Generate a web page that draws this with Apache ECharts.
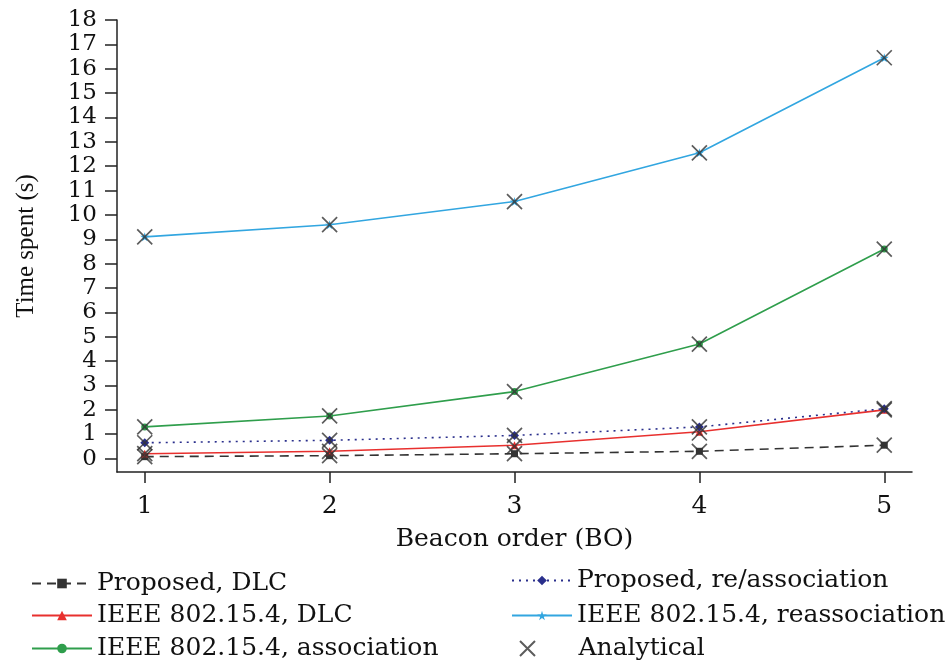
<!DOCTYPE html>
<html>
<head>
<meta charset="utf-8">
<script src="https://cdn.jsdelivr.net/npm/echarts@6/dist/echarts.min.js"></script>
<style>html,body{margin:0;padding:0;background:#fff}#c{width:950px;height:662px}</style>
</head>
<body>
<div id="c"></div>
<script>
var beaconOrder = [1, 2, 3, 4, 5];
var yTicks = [0,1,2,3,4,5,6,7,8,9,10,11,12,13,14,15,16,17,18];
var xTicks = [1, 2, 3, 4, 5];

var proposedDLC = [0.08, 0.12, 0.2, 0.3, 0.55];
var ieeeDLC = [0.2, 0.3, 0.55, 1.1, 2.0];
var ieeeAssoc = [1.3, 1.75, 2.75, 4.7, 8.6];
var proposedReassoc = [0.65, 0.75, 0.95, 1.3, 2.05];
var ieeeReassoc = [9.1, 9.6, 10.55, 12.55, 16.45];

var anaProposedDLC = [0.08, 0.12, 0.2, 0.3, 0.55];
var anaIeeeDLC = [0.2, 0.3, 0.5, 1.05, 2.0];
var anaIeeeAssoc = [1.3, 1.75, 2.75, 4.7, 8.6];
var anaProposedReassoc = [0.65, 0.75, 0.95, 1.3, 2.05];
var anaIeeeReassoc = [9.1, 9.6, 10.55, 12.55, 16.45];

function pairs(ys) { return beaconOrder.map(function (x, i) { return [x, ys[i]]; }); }

var analytical = [].concat(pairs(anaProposedDLC), pairs(anaIeeeDLC), pairs(anaIeeeAssoc), pairs(anaProposedReassoc), pairs(anaIeeeReassoc));

var FONT = '"DejaVu Serif", "Liberation Serif", serif';
var FONT_V = '"Liberation Serif", "DejaVu Serif", serif';
var STAR = 'path://M50,0 L61,35 L98,35 L68,57 L79,91 L50,70 L21,91 L32,57 L2,35 L39,35 Z';
var CROSS = 'path://M0,0L10,10M10,0L0,10';

function lineSeries(name, data, color, symbol, size, type) {
  return {
    name: name, type: 'line', data: pairs(data),
    symbol: symbol, symbolSize: size, showSymbol: true,
    lineStyle: { color: color, width: 1.6, type: type || 'solid' },
    itemStyle: { color: color },
    z: 2
  };
}

function legendItem(name, left, top, extra, textPad) {
  var l = {
    left: left, top: top, orient: 'horizontal', itemWidth: 60, itemHeight: 12, itemGap: 0,
    textStyle: { fontFamily: FONT, fontSize: 25, color: '#111' },
    data: [name]
  };
  if (textPad) l.textStyle.padding = textPad;
  if (extra) { for (var k in extra) l[k] = extra[k]; }
  return l;
}

var chart = echarts.init(document.getElementById('c'));
chart.setOption({
  animation: false,
  backgroundColor: '#fff',
  grid: { left: 117, top: 20, right: 38, bottom: 190 },
  xAxis: {
    type: 'value', min: 0.85, max: 5.15,
    name: 'Beacon order (BO)', nameLocation: 'middle', nameGap: 55,
    nameTextStyle: { fontFamily: FONT, fontSize: 25, color: '#111' },
    axisLine: { show: true, onZero: false, lineStyle: { color: '#222', width: 1.5 } },
    axisTick: { show: true, length: 11, customValues: xTicks, lineStyle: { color: '#222', width: 1.5 } },
    axisLabel: { customValues: xTicks, margin: 22, fontFamily: FONT, fontSize: 25, color: '#111' },
    splitLine: { show: false }
  },
  yAxis: {
    type: 'value', min: -0.55, max: 18,
    name: 'Time spent (s)', nameLocation: 'middle', nameGap: 78,
    nameTextStyle: { fontFamily: FONT_V, fontSize: 25, color: '#111' },
    axisLine: { show: true, lineStyle: { color: '#222', width: 1.5 } },
    axisTick: { show: true, length: 12, customValues: yTicks, lineStyle: { color: '#222', width: 1.5 } },
    axisLabel: { customValues: yTicks, margin: 20, fontFamily: FONT, fontSize: 23, color: '#111' },
    splitLine: { show: false }
  },
  legend: [
    legendItem('Proposed, DLC', 26, 566),
    legendItem('IEEE 802.15.4, DLC', 26, 598),
    legendItem('IEEE 802.15.4, association', 26, 631),
    legendItem('Proposed, re/association', 506, 563),
    legendItem('IEEE 802.15.4, reassociation', 506, 598),
    legendItem('Analytical', 514, 631, { itemHeight: 15 }, [0, 0, 0, 16])
  ],
  series: [
    lineSeries('Proposed, DLC', proposedDLC, '#333', 'rect', 7, [9, 6]),
    lineSeries('IEEE 802.15.4, DLC', ieeeDLC, '#e8302e', 'triangle', 8),
    lineSeries('IEEE 802.15.4, association', ieeeAssoc, '#2f9e4c', 'circle', 7),
    lineSeries('Proposed, re/association', proposedReassoc, '#2a2f8c', 'diamond', 9, [2, 5]),
    lineSeries('IEEE 802.15.4, reassociation', ieeeReassoc, '#32a6e0', STAR, 9),
    {
      name: 'Analytical', type: 'scatter', data: analytical,
      symbol: CROSS, symbolSize: 15,
      itemStyle: { color: 'rgba(0,0,0,0)', borderColor: '#333', borderWidth: 1.7 },
      z: 3
    }
  ]
});
</script>
</body>
</html>
